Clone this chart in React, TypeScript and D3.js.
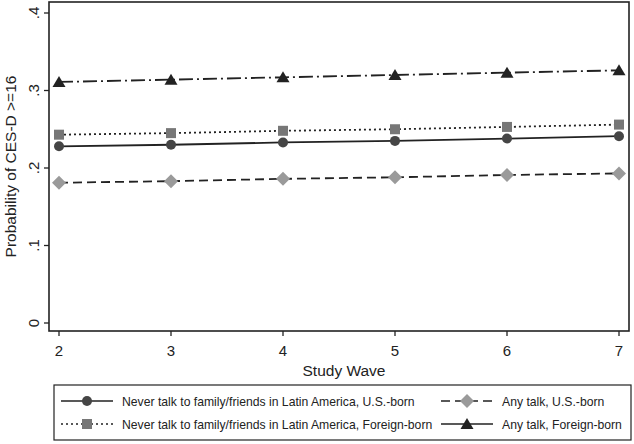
import React from "react";
import * as d3 from "d3";

const waves = [2, 3, 4, 5, 6, 7];
const neverUS = [0.228, 0.230, 0.233, 0.235, 0.238, 0.241];
const neverFB = [0.243, 0.245, 0.248, 0.250, 0.253, 0.256];
const anyUS = [0.181, 0.183, 0.186, 0.188, 0.191, 0.193];
const anyFB = [0.311, 0.314, 0.317, 0.320, 0.323, 0.326];
const yTicks = [0, 0.1, 0.2, 0.3, 0.4];
const yTickLabels = ["0", ".1", ".2", ".3", ".4"];
const seriesNames = [
  "Never talk to family/friends in Latin America, U.S.-born",
  "Never talk to family/friends in Latin America, Foreign-born",
  "Any talk, U.S.-born",
  "Any talk, Foreign-born",
];

type Shape = "circle" | "square" | "diamond" | "triangle";
const series = [
  { name: seriesNames[0], values: neverUS, shape: "circle" as Shape, fill: "#454545", stroke: "#222", dash: "" },
  { name: seriesNames[1], values: neverFB, shape: "square" as Shape, fill: "#777", stroke: "#222", dash: "2,3" },
  { name: seriesNames[2], values: anyUS, shape: "diamond" as Shape, fill: "#9a9a9a", stroke: "#222", dash: "9,5" },
  { name: seriesNames[3], values: anyFB, shape: "triangle" as Shape, fill: "#222", stroke: "#222", dash: "14,4,2,4" },
];

function Marker({ shape, x, y, fill }: { shape: Shape; x: number; y: number; fill: string }) {
  if (shape === "circle") return <circle cx={x} cy={y} r={5} fill={fill} />;
  if (shape === "square") return <rect x={x - 5} y={y - 5} width={10} height={10} fill={fill} />;
  if (shape === "diamond")
    return <path d={`M${x},${y - 7}L${x + 7},${y}L${x},${y + 7}L${x - 7},${y}Z`} fill={fill} />;
  return <path d={`M${x},${y - 6}L${x + 6.5},${y + 5}L${x - 6.5},${y + 5}Z`} fill={fill} />;
}

export default function App() {
  const W = 634, H = 444;
  const left = 49, right = 629, top = 2, bottom = 331;
  const x = d3.scaleLinear().domain([2, 7]).range([59, 619]);
  const y = d3.scaleLinear().domain([0, 0.4]).range([323, 13]);
  const line = d3.line<[number, number]>().x((d) => x(d[0])).y((d) => y(d[1]));
  const font = "'Liberation Sans', Arial, Helvetica, sans-serif";

  const legendItems = [
    { s: series[0], lx: 61, ty: 401 },
    { s: series[1], lx: 61, ty: 424 },
    { s: series[2], lx: 441, ty: 401 },
    { s: series[3], lx: 441, ty: 424 },
  ];

  return (
    <svg width={W} height={H} style={{ position: "absolute", left: 0, top: 0, background: "#fff" }} fontFamily={font}>
      <rect x={0} y={0} width={W} height={H} fill="#fff" />
      <rect x={left} y={top} width={right - left} height={bottom - top} fill="none" stroke="#222" strokeWidth={1.6} />
      {yTicks.map((t, i) => (
        <g key={t}>
          <line x1={left - 5} x2={left} y1={y(t)} y2={y(t)} stroke="#222" strokeWidth={1.3} />
          <text
            transform={`translate(${left - 10},${y(t)}) rotate(-90)`}
            textAnchor="middle"
            fontSize={15}
            fill="#222"
          >
            {yTickLabels[i]}
          </text>
        </g>
      ))}
      {waves.map((w) => (
        <g key={w}>
          <line x1={x(w)} x2={x(w)} y1={bottom} y2={bottom + 5} stroke="#222" strokeWidth={1.3} />
          <text x={x(w)} y={bottom + 25} textAnchor="middle" fontSize={15} fill="#222">
            {w}
          </text>
        </g>
      ))}
      <text x={(left + right) / 2 + 5} y={376} textAnchor="middle" fontSize={15.5} fill="#222">
        Study Wave
      </text>
      <text transform={`translate(16,${(top + bottom) / 2}) rotate(-90)`} textAnchor="middle" fontSize={15.5} fill="#222">
        Probability of CES-D &gt;=16
      </text>
      {series.map((s) => (
        <g key={s.name}>
          <path
            d={line(waves.map((w, i) => [w, s.values[i]]) as [number, number][]) || ""}
            fill="none"
            stroke={s.stroke}
            strokeWidth={1.8}
            strokeDasharray={s.dash}
          />
          {waves.map((w, i) => (
            <Marker key={w} shape={s.shape} x={x(w)} y={y(s.values[i])} fill={s.fill} />
          ))}
        </g>
      ))}
      <rect x={54} y={385} width={577} height={55} fill="#fff" stroke="#222" strokeWidth={1.2} />
      {legendItems.map(({ s, lx, ty }) => (
        <g key={s.name}>
          <line x1={lx} x2={lx + 52} y1={ty} y2={ty} stroke={s.stroke} strokeWidth={1.5} strokeDasharray={s.dash === "14,4,2,4" ? "" : s.dash} />
          <Marker shape={s.shape} x={lx + 26} y={ty} fill={s.fill} />
          <text x={lx + 61} y={ty + 4.5} fontSize={12.2} fill="#222">
            {s.name}
          </text>
        </g>
      ))}
    </svg>
  );
}
